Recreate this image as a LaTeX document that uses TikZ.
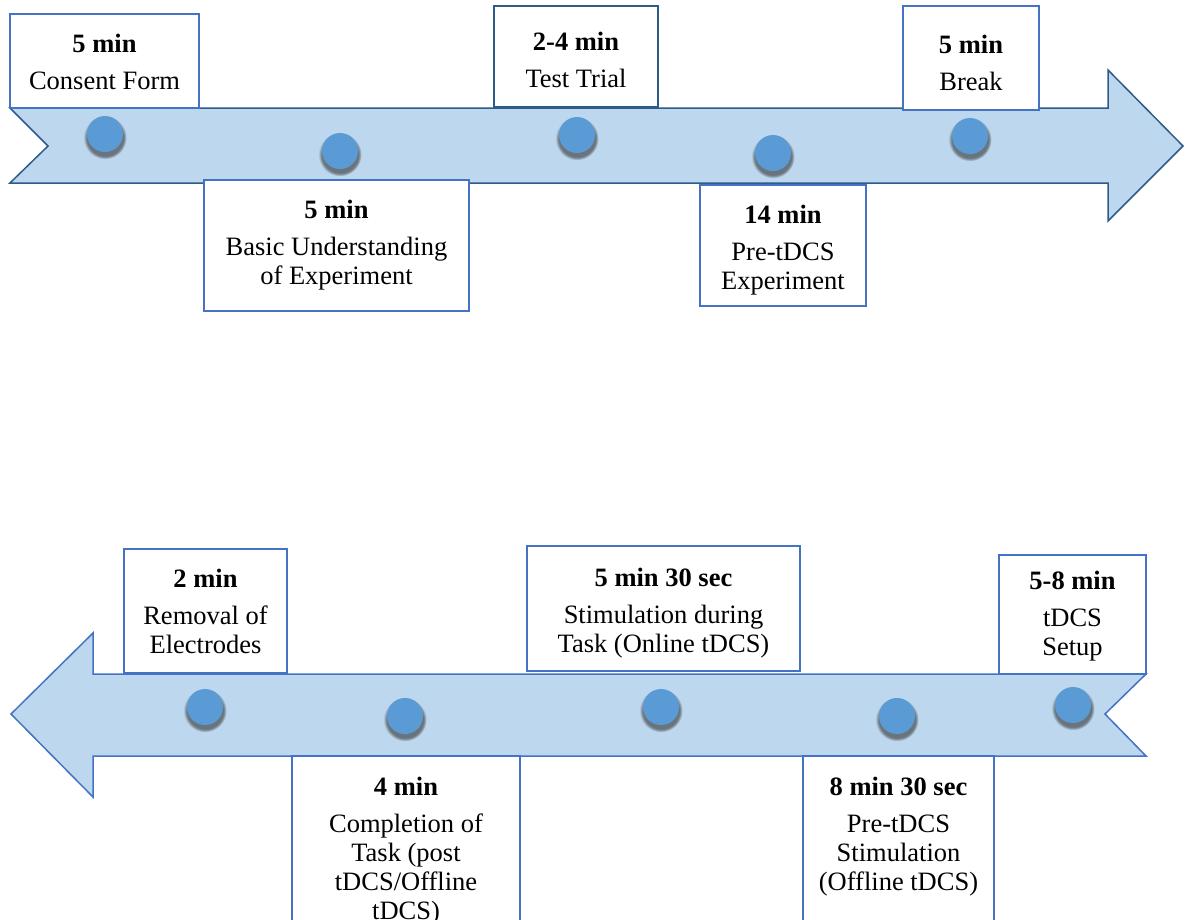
\documentclass[tikz,border=0pt]{standalone}
\usepackage{fontspec}
\setmainfont{Liberation Serif}
\usetikzlibrary{shadows}
\definecolor{arrowfill}{HTML}{BDD7EE}
\definecolor{darkedge}{HTML}{2E5B8A}
\definecolor{boxedge}{HTML}{4472C4}
\definecolor{dotfill}{HTML}{5B9BD5}
\begin{document}
\begin{tikzpicture}[x=1pt,y=-1pt,
  box/.style={draw=boxedge, line width=1.5pt, fill=white, inner sep=0pt},
  lbl/.style={align=center, inner sep=0pt, anchor=north, font=\fontsize{26.5}{29}\selectfont},
  dot/.style={circle, fill=dotfill, minimum size=36pt, inner sep=0pt,
    circular drop shadow={shadow xshift=0pt, shadow yshift=-3pt, shadow scale=1.2, opacity=0.6, fill=black!80}},
  arrowbody/.style={fill=arrowfill, line width=1.5pt, line join=miter}]
\useasboundingbox (0,0) rectangle (1186,919);
\clip (0,0) rectangle (1186,919);
% top arrow
\draw[arrowbody, draw=darkedge] (10,108) -- (1108,108) -- (1108,70) -- (1183,146) -- (1108,221) -- (1108,183) -- (10,183) -- (48,146) -- cycle;
% bottom arrow
\draw[arrowbody, draw=boxedge] (1146,674) -- (93,674) -- (93,633) -- (11,714) -- (93,797) -- (93,756) -- (1146,756) -- (1105,714) -- cycle;
% dots top
\node[dot] (d1) at (105,134) {};
\node[dot] (d2) at (340,151) {};
\node[dot] (d3) at (577,135) {};
\node[dot] (d4) at (773,153) {};
\node[dot] (d5) at (970,136) {};
% dots bottom
\node[dot] (e1) at (205,707) {};
\node[dot] (e2) at (405,716) {};
\node[dot] (e3) at (661,707) {};
\node[dot] (e4) at (897,716) {};
\node[dot] (e5) at (1073,705) {};
% top boxes
\node[box, minimum width=189pt, minimum height=94pt] (b1) at (104.5,61) {};
\node[lbl] (t1) at (104.5,34) {\textbf{5 min}\\[8pt]Consent Form};
\node[box, minimum width=265pt, minimum height=131pt] (b2) at (336.5,245.5) {};
\node[lbl] (t2) at (336.5,200) {\textbf{5 min}\\[8pt]Basic Understanding\\of Experiment};
\node[box, draw=darkedge, minimum width=164pt, minimum height=101pt] (b3) at (576,56.5) {};
\node[lbl] (t3) at (576,32) {\textbf{2-4 min}\\[8pt]Test Trial};
\node[box, minimum width=166pt, minimum height=121pt] (b4) at (783,245.5) {};
\node[lbl] (t4) at (783,205) {\textbf{14 min}\\[8pt]Pre-tDCS\\Experiment};
\node[box, minimum width=136pt, minimum height=104pt] (b5) at (971,58) {};
\node[lbl] (t5) at (971,35) {\textbf{5 min}\\[8pt]Break};
% bottom boxes
\node[box, minimum width=163pt, minimum height=124pt] (c1) at (205.5,611) {};
\node[lbl] (s1) at (205.5,569) {\textbf{2 min}\\[8pt]Removal of\\Electrodes};
\node[box, minimum width=228pt, minimum height=174pt] (c2) at (406,843) {};
\node[lbl] (s2) at (406,777) {\textbf{4 min}\\[8pt]Completion of\\Task (post\\tDCS/Offline\\tDCS)};
\node[box, minimum width=273pt, minimum height=125pt] (c3) at (663.5,608.5) {};
\node[lbl] (s3) at (663.5,568) {\textbf{5 min 30 sec}\\[8pt]Stimulation during\\Task (Online tDCS)};
\node[box, minimum width=191pt, minimum height=174pt] (c4) at (898.5,843) {};
\node[lbl] (s4) at (898.5,777) {\textbf{8 min 30 sec}\\[8pt]Pre-tDCS\\Stimulation\\(Offline tDCS)};
\node[box, minimum width=147pt, minimum height=119pt] (c5) at (1072.5,614.5) {};
\node[lbl] (s5) at (1072.5,571) {\textbf{5-8 min}\\[8pt]tDCS\\Setup};
\end{tikzpicture}
\end{document}
